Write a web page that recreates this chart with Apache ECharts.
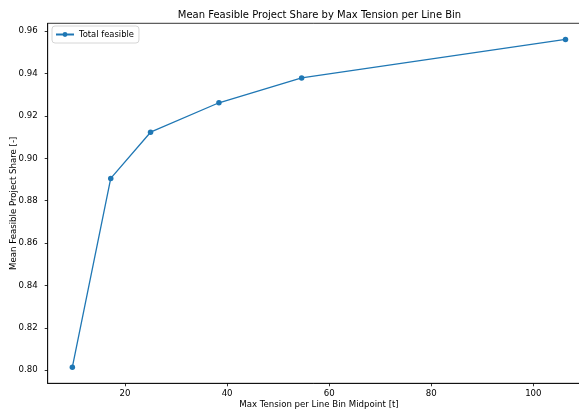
<!DOCTYPE html>
<html>
<head>
<meta charset="utf-8">
<script src="https://cdn.jsdelivr.net/npm/echarts@6/dist/echarts.min.js"></script>
<style>html,body{margin:0;padding:0;background:#fff;}#c{width:579px;height:409px;}</style>
</head>
<body>
<div id="c"></div>
<script>
const xValues = [9.68, 17.2, 25.0, 38.4, 54.6, 106.3];
const yValues = [0.8014, 0.8905, 0.9123, 0.9262, 0.9379, 0.9561];
const xTicks = [20, 40, 60, 80, 100];
const yTicks = [0.80, 0.82, 0.84, 0.86, 0.88, 0.90, 0.92, 0.94, 0.96];
const seriesName = 'Total feasible';
const titleText = 'Mean Feasible Project Share by Max Tension per Line Bin';
const xLabel = 'Max Tension per Line Bin Midpoint [t]';
const yLabel = 'Mean Feasible Project Share [-]';

const FONT = 'DejaVu Sans';
const chart = echarts.init(document.getElementById('c'), null, {renderer: 'canvas'});
const xMin = 4.85, xMax = 111.1, yMin = 0.7938, yMax = 0.9637;
chart.setOption({
  animation: false,
  backgroundColor: '#fff',
  textStyle: {fontFamily: FONT},
  graphic: [{
    type: 'text', x: 319.5, y: 15,
    style: {text: titleText, textAlign: 'center', textVerticalAlign: 'middle',
      font: '10px "DejaVu Sans"', fill: '#000'}
  }, {
    type: 'text', x: 319, y: 404.5,
    style: {text: xLabel, textAlign: 'center', textVerticalAlign: 'middle',
      font: '8.6px "DejaVu Sans"', fill: '#000'}
  }, {
    type: 'text', x: 14, y: 203.3, rotation: Math.PI / 2,
    style: {text: yLabel, textAlign: 'center', textVerticalAlign: 'middle',
      font: '8.6px "DejaVu Sans"', fill: '#000'}
  }],
  legend: {
    data: [seriesName], left: 52, top: 26, orient: 'vertical',
    itemWidth: 18, itemHeight: 6, itemGap: 5,
    padding: [4.5, 5, 4.5, 3],
    borderColor: '#cccccc', borderWidth: 0.8, borderRadius: 3,
    backgroundColor: 'rgba(255,255,255,0.8)',
    textStyle: {fontFamily: FONT, fontSize: 8.4, color: '#000'}
  },
  grid: {left: 47.7, top: 23.3, width: 542.3, height: 360, show: true,
    borderColor: '#000', borderWidth: 0.8, containLabel: false, outerBoundsMode: 'none'},
  xAxis: {
    type: 'value', min: xMin, max: xMax,
    axisLine: {show: true, lineStyle: {color: '#000', width: 0.8}},
    axisTick: {show: true, inside: false, length: 3, customValues: xTicks, lineStyle: {color: '#000', width: 0.8}},
    axisLabel: {customValues: xTicks, margin: 6, fontFamily: FONT, fontSize: 8.6, color: '#000'},
    splitLine: {show: false}
  },
  yAxis: {
    type: 'value', min: yMin, max: yMax,
    axisLine: {show: true, lineStyle: {color: '#000', width: 0.8}},
    axisTick: {show: true, inside: false, length: 3, customValues: yTicks, lineStyle: {color: '#000', width: 0.8}},
    axisLabel: {customValues: yTicks, margin: 10, fontFamily: FONT, fontSize: 8.6, color: '#000',
      formatter: v => v.toFixed(2)},
    splitLine: {show: false}
  },
  series: [{
    name: seriesName, type: 'line',
    data: xValues.map((x, i) => [x, yValues[i]]),
    symbol: 'circle', symbolSize: 5.5, showSymbol: true,
    lineStyle: {color: '#1f77b4', width: 1.3},
    itemStyle: {color: '#1f77b4'},
    clip: false
  }]
});
</script>
</body>
</html>
